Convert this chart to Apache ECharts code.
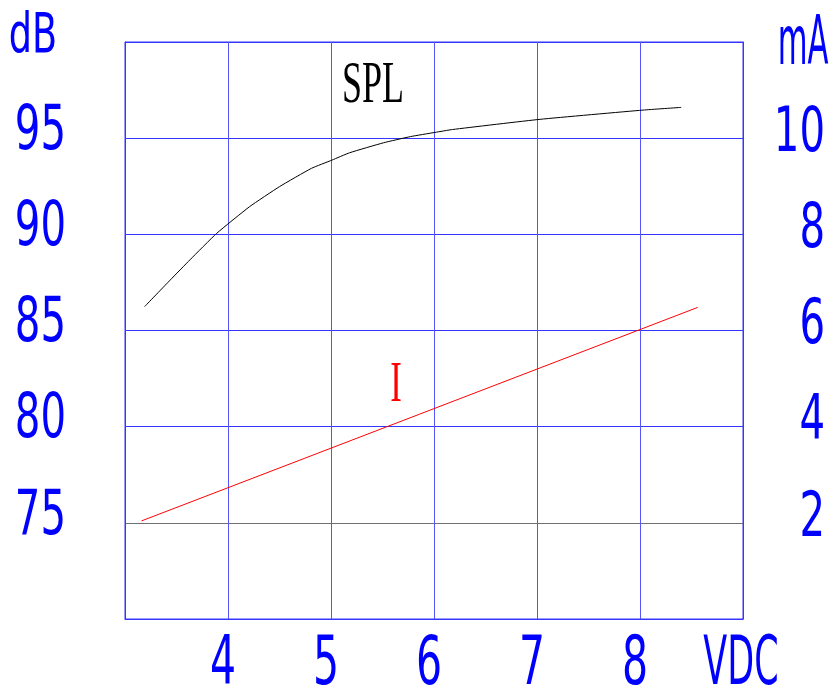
<!DOCTYPE html>
<html>
<head>
<meta charset="utf-8">
<title>SPL / I vs VDC</title>
<script src="https://cdn.jsdelivr.net/npm/echarts@6/dist/echarts.min.js"></script>
<style>
    html, body { margin: 0; padding: 0; background: #fff; }
    #chart { width: 834px; height: 690px; }
</style>
</head>
<body>
<div id="chart"></div>
<script>
    // 数据：SPL 曲线（dB，左轴）
    var splVolts = [3.19, 3.44, 3.63, 3.89, 4.21, 4.50, 4.81, 5.01, 5.18, 5.51, 5.77, 6.01, 6.18, 7.03, 8.03, 8.40]
    var splDb = [86.24, 87.63, 88.67, 90.05, 91.44, 92.48, 93.43, 93.86, 94.24, 94.76, 95.08, 95.30, 95.45, 95.98, 96.46, 96.60]
    // 数据：电流 I（mA，右轴）
    var curVolts = [3.16, 8.56]
    var curMa = [2.04, 6.48]
    // 刻度标签
    var xTicks = [4, 5, 6, 7, 8]
    var dbTicks = [75, 80, 85, 90, 95]
    var maTicks = [2, 4, 6, 8, 10]

    var blue = '#0000ff'
    var gridBlue = '#3535ff'
    var sansFont = "'DejaVu Sans Condensed', 'DejaVu Sans', sans-serif"
    var serifFont = "'Liberation Serif', serif"

    function pairs (xs, ys) {
        return xs.map(function (x, i) { return [x, ys[i]] })
    }

    // 窄字体文字（横向压缩），y 为大写字母中心
    function label (str, x, y, size, sx, align) {
        return {
            type: 'text',
            x: x,
            y: y + 0.07 * size,
            scaleX: sx,
            silent: true,
            style: {
                text: str,
                fill: blue,
                font: size + 'px ' + sansFont,
                align: align || 'center',
                verticalAlign: 'middle'
            }
        }
    }

    var chart = echarts.init(document.getElementById('chart'))
    var option = {
        animation: false,
        grid: {
            left: 125, top: 42, width: 618, height: 577,
            outerBoundsMode: 'none',
            show: true,
            borderColor: gridBlue,
            borderWidth: 1
        },
        xAxis: {
            type: 'value',
            min: 3, max: 9, interval: 1,
            axisLine: { lineStyle: { color: gridBlue } },
            axisTick: { show: false },
            axisLabel: { show: false },
            splitLine: { lineStyle: { color: '#5555ff', width: 1 } }
        },
        yAxis: [{
            type: 'value',
            min: 70, max: 100, interval: 5,
            axisLine: { lineStyle: { color: gridBlue } },
            axisTick: { show: false },
            axisLabel: { show: false },
            splitLine: {
                lineStyle: {
                    color: [gridBlue, '#707070', gridBlue, gridBlue, gridBlue, gridBlue, gridBlue],
                    width: 1
                }
            }
        }, {
            type: 'value',
            min: 0, max: 12, interval: 2,
            position: 'right',
            axisLine: { show: true, lineStyle: { color: gridBlue } },
            axisTick: { show: false },
            axisLabel: { show: false },
            splitLine: { show: false }
        }],
        series: [{
            name: 'SPL',
            type: 'line',
            yAxisIndex: 0,
            smooth: 0.15,
            symbol: 'none',
            lineStyle: { color: '#000', width: 1 },
            data: pairs(splVolts, splDb)
        }, {
            name: 'I',
            type: 'line',
            yAxisIndex: 1,
            symbol: 'none',
            lineStyle: { color: '#ff0000', width: 1 },
            data: pairs(curVolts, curMa)
        }]
    }
    chart.setOption(option)

    // 刻度标签按坐标轴换算位置
    var texts = []
    xTicks.forEach(function (v) {
        var px = chart.convertToPixel({ xAxisIndex: 0 }, v)
        texts.push(label(String(v), px - 5, 662, 67, 0.68, 'center'))
    })
    var vdcX = chart.convertToPixel({ xAxisIndex: 0 }, 9)
    texts.push(label('VDC', vdcX - 2, 662, 67, 0.58, 'center'))
    dbTicks.forEach(function (v) {
        var py = chart.convertToPixel({ yAxisIndex: 0 }, v)
        texts.push(label(String(v), 66, py - 10, 63, 0.71, 'right'))
    })
    maTicks.forEach(function (v) {
        var py = chart.convertToPixel({ yAxisIndex: 1 }, v)
        texts.push(label(String(v), 825, py - 8, 63, 0.71, 'right'))
    })
    texts.push(label('dB', 33, 34, 55, 0.74, 'center'))
    texts.push(label('mA', 803, 42, 68, 0.5, 'center'))
    texts.push({
        type: 'text', x: 373, y: 86, scaleX: 0.6, silent: true,
        style: { text: 'SPL', fill: '#000', font: '60px ' + serifFont, align: 'center', verticalAlign: 'middle' }
    })
    texts.push({
        type: 'text', x: 396, y: 386, scaleX: 0.6, silent: true,
        style: { text: 'I', fill: '#ff0000', font: '58px ' + serifFont, align: 'center', verticalAlign: 'middle' }
    })
    chart.setOption({ graphic: texts })
</script>
</body>
</html>
